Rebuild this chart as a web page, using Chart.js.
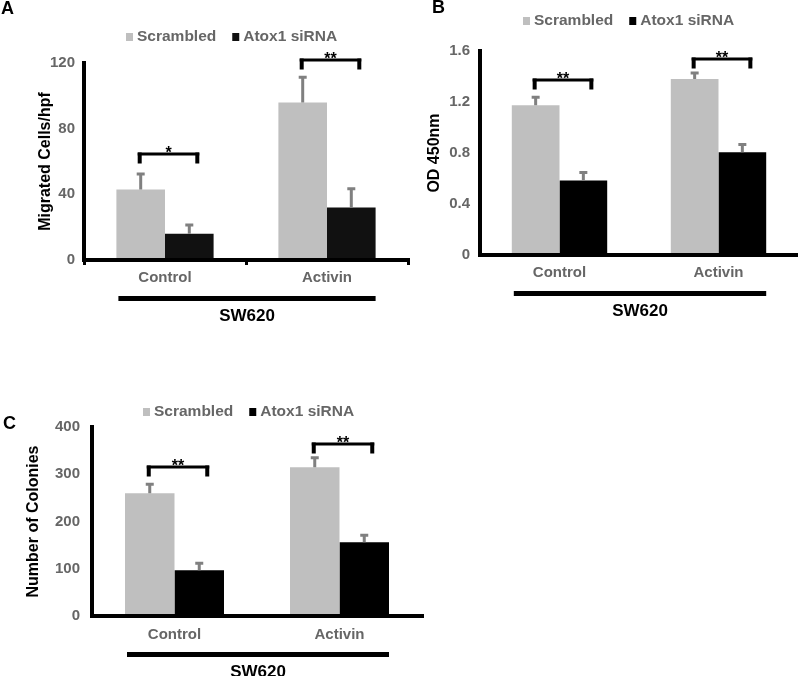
<!DOCTYPE html>
<html>
<head>
<meta charset="utf-8">
<script src="https://cdn.jsdelivr.net/npm/chart.js@4.4.1/dist/chart.umd.min.js"></script>
<style>
html, body { margin: 0; padding: 0; background: #fff; }
#wrap { position: relative; width: 798px; height: 676px; overflow: hidden; }
canvas { position: absolute; }
</style>
</head>
<body>
<div id="wrap">
  <canvas id="chart-a" width="420" height="330" style="left:0;top:0"></canvas>
  <canvas id="chart-b" width="398" height="330" style="left:400px;top:0"></canvas>
  <canvas id="chart-c" width="430" height="346" style="left:0;top:330px"></canvas>
</div>
<script>
const GROUPS = ["Control", "Activin"];
const SERIES = ["Scrambled", "Atox1 siRNA"];
const CELL_LINE = "SW620";

// A - migration
const migScr = [43, 96];
const migScrErr = [10, 16];
const migAtox = [16, 32];
const migAtoxErr = [6, 12];
const migTicks = [0, 40, 80, 120];
const migStars = ["*", "**"];
const migBracket = [64.5, 122];

// B - proliferation
const odScr = [1.175, 1.38];
const odScrErr = [0.07, 0.055];
const odAtox = [0.585, 0.805];
const odAtoxErr = [0.07, 0.07];
const odTicks = [0, 0.4, 0.8, 1.2, 1.6];
const odStars = ["**", "**"];
const odBracket = [1.372, 1.537];

// C - colony formation
const colScr = [260, 315];
const colScrErr = [21, 22];
const colAtox = [97, 156];
const colAtoxErr = [17, 17];
const colTicks = [0, 100, 200, 300, 400];
const colStars = ["**", "**"];
const colBracket = [315, 364];

Chart.defaults.font.family = "'Liberation Sans', Arial, sans-serif";

const overlay = {
  id: "overlay",
  afterDatasetsDraw(chart, args, o) {
    const ctx = chart.ctx;
    const y = chart.scales.y;
    const m0 = chart.getDatasetMeta(0), m1 = chart.getDatasetMeta(1);
    ctx.save();
    // error bars (upper only)
    ctx.strokeStyle = "#808080";
    ctx.lineWidth = 3;
    chart.data.datasets.forEach((ds, i) => {
      chart.getDatasetMeta(i).data.forEach((bar, j) => {
        const top = y.getPixelForValue(ds.data[j] + ds.err[j]);
        ctx.beginPath();
        ctx.moveTo(bar.x, bar.y);
        ctx.lineTo(bar.x, top);
        ctx.moveTo(bar.x - 4, top + 1);
        ctx.lineTo(bar.x + 4, top + 1);
        ctx.stroke();
      });
    });
    // significance brackets
    ctx.fillStyle = "#000";
    o.brackets.forEach((v, j) => {
      const yy = Math.round(y.getPixelForValue(v));
      const x0 = m0.data[j].x - 1, x1 = m1.data[j].x + 8;
      ctx.fillRect(x0 - 2, yy - 1.5, x1 - x0 + 4, 3);
      ctx.fillRect(x0 - 2, yy - 1.5, 4, 11);
      ctx.fillRect(x1 - 2, yy - 1.5, 4, 11);
      ctx.font = "bold 16px 'Liberation Sans', Arial, sans-serif";
      ctx.textAlign = "center";
      ctx.textBaseline = "alphabetic";
      ctx.fillText(o.stars[j], (x0 + x1) / 2, yy + 4);
    });
    ctx.restore();
  },
  afterDraw(chart, args, o) {
    const ctx = chart.ctx;
    const area = chart.chartArea;
    const m0 = chart.getDatasetMeta(0), m1 = chart.getDatasetMeta(1);
    ctx.save();
    // panel letter
    ctx.fillStyle = "#000";
    ctx.font = "bold 18px 'Liberation Sans', Arial, sans-serif";
    ctx.textAlign = "left";
    ctx.textBaseline = "alphabetic";
    ctx.fillText(o.letter, o.letterX, o.letterY);
    // legend
    ctx.font = "bold 15.5px 'Liberation Sans', Arial, sans-serif";
    ctx.textBaseline = "middle";
    let lx = o.legendX;
    chart.data.datasets.forEach(ds => {
      ctx.fillStyle = ds.backgroundColor;
      ctx.fillRect(lx, o.legendY - 4, 7, 8);
      lx += 11;
      ctx.fillStyle = "#666";
      ctx.fillText(ds.label, lx, o.legendY);
      lx += ctx.measureText(ds.label).width + 16;
    });
    // cell line bar
    const b0 = m0.data[0], b1 = m1.data[m1.data.length - 1];
    const xl = b0.x - b0.width / 2 + 2, xr = b1.x + b1.width / 2;
    ctx.fillStyle = "#000";
    ctx.fillRect(xl, area.bottom + 36, xr - xl, 5);
    ctx.font = "bold 17px 'Liberation Sans', Arial, sans-serif";
    ctx.textAlign = "center";
    ctx.fillText(CELL_LINE, (xl + xr) / 2, area.bottom + 56);
    ctx.restore();
  },
};

function makePanel(id, p) {
  return new Chart(document.getElementById(id), {
    type: "bar",
    data: {
      labels: GROUPS,
      datasets: [
        { label: SERIES[0], data: p.scr, err: p.scrErr, backgroundColor: "#bfbfbf" },
        { label: SERIES[1], data: p.atox, err: p.atoxErr, backgroundColor: p.dark },
      ],
    },
    options: {
      responsive: false,
      animation: false,
      layout: { padding: { left: 0, right: p.padRight, top: p.padTop, bottom: 0 } },
      datasets: { bar: { categoryPercentage: 0.6, barPercentage: 1 } },
      plugins: { legend: { display: false }, tooltip: { enabled: false }, overlay: p },
      scales: {
        x: {
          grid: { display: p.midTick, drawOnChartArea: false, drawTicks: p.midTick, tickLength: 5, color: "#000", lineWidth: 3, z: 1 },
          border: { display: true, color: "#000", width: 4, z: 1 },
          ticks: { color: "#666", font: { size: 15, weight: "bold" }, padding: p.xPad },
          afterFit: s => { s.height = p.xHeight; },
        },
        y: {
          min: p.ticks[0],
          max: p.ticks[p.ticks.length - 1],
          afterBuildTicks: s => { s.ticks = p.ticks.map(v => ({ value: v })); },
          grid: { display: false, drawTicks: false },
          border: { display: true, color: "#000", width: 4, z: 1 },
          ticks: { color: "#666", font: { size: 15, weight: "bold" }, padding: p.yPad },
          title: { display: true, text: p.yTitle, color: "#000", font: { size: 16, weight: "bold" }, padding: { top: p.titlePad, bottom: 0 } },
          afterFit: s => { s.width = p.yWidth; },
        },
      },
    },
    plugins: [overlay],
  });
}

makePanel("chart-a", {
  scr: migScr, scrErr: migScrErr, atox: migAtox, atoxErr: migAtoxErr, ticks: migTicks,
  stars: migStars, brackets: migBracket, dark: "#111111", yTitle: "Migrated Cells/hpf",
  yWidth: 84, padTop: 63, padRight: 12, xHeight: 70, xPad: 4, yPad: 9, titlePad: 36, midTick: true,
  letter: "A", letterX: 1, letterY: 14, legendX: 126, legendY: 37,
});

makePanel("chart-b", {
  scr: odScr, scrErr: odScrErr, atox: odAtox, atoxErr: odAtoxErr, ticks: odTicks,
  stars: odStars, brackets: odBracket, dark: "#000000", yTitle: "OD 450nm",
  yWidth: 80, padTop: 51, padRight: 0, xHeight: 75, xPad: 9, yPad: 10, titlePad: 25, midTick: false,
  letter: "B", letterX: 32, letterY: 13, legendX: 123, legendY: 21,
});

makePanel("chart-c", {
  scr: colScr, scrErr: colScrErr, atox: colAtox, atoxErr: colAtoxErr, ticks: colTicks,
  stars: colStars, brackets: colBracket, dark: "#000000", yTitle: "Number of Colonies",
  yWidth: 92, padTop: 97, padRight: 8, xHeight: 60, xPad: 10, yPad: 12, titlePad: 24, midTick: false,
  letter: "C", letterX: 3, letterY: 99, legendX: 143, legendY: 82,
});
</script>
</body>
</html>
